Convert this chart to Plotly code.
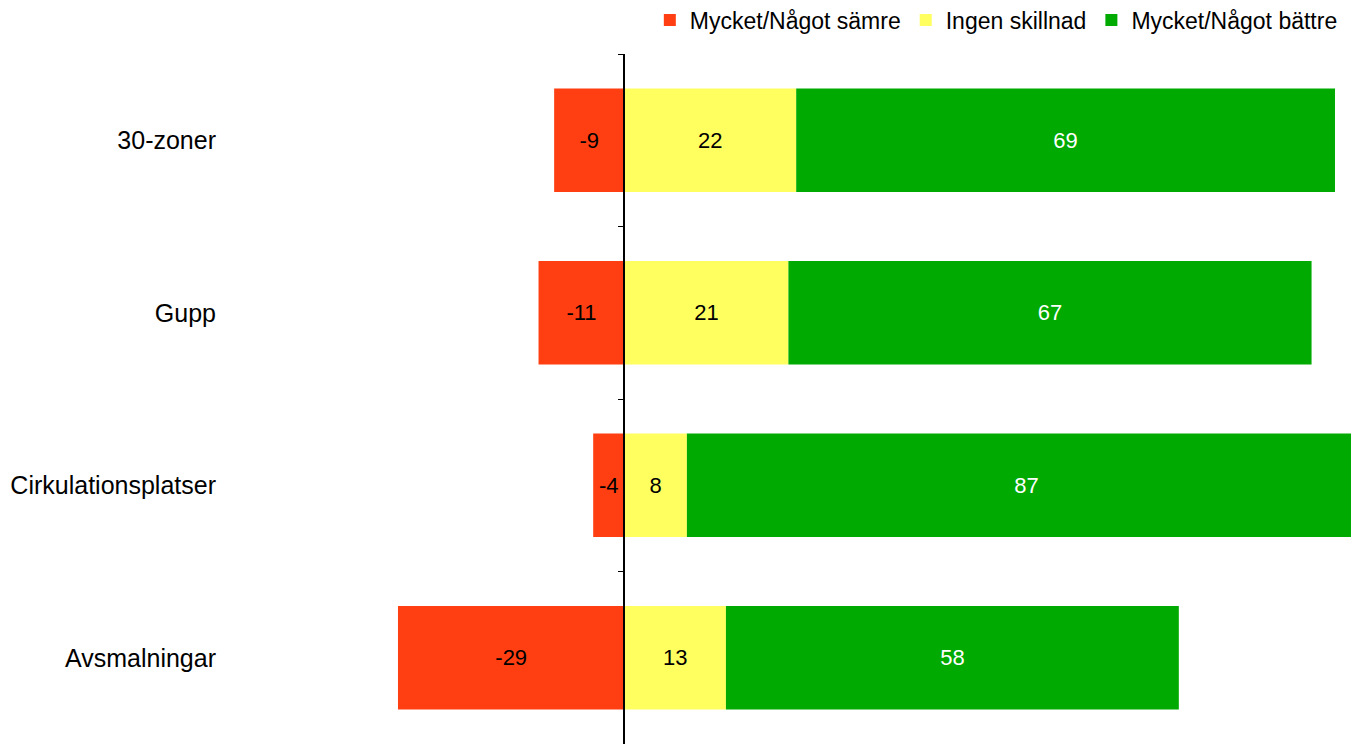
import plotly.graph_objects as go

# survey answers (%), one row per traffic measure
categories = ['30-zoner', 'Gupp', 'Cirkulationsplatser', 'Avsmalningar']
worse = [-9, -11, -4, -29]
no_diff = [22, 21, 8, 13]
better = [69, 67, 87, 58]

series_names = ['Mycket/Något sämre', 'Ingen skillnad', 'Mycket/Något bättre']
colors = ['#FF3F12', '#FFFF60', '#00AA00']
text_colors = ['black', 'black', 'white']

x_range = [-50, 95.1]
font = 'Liberation Sans, Arial, sans-serif'

fig = go.Figure()
for name, values, color, tcolor in zip(series_names, [worse, no_diff, better], colors, text_colors):
    fig.add_trace(go.Bar(
        y=categories, x=values, name=name, orientation='h',
        marker=dict(color=color, line=dict(width=0)),
        text=[str(v) for v in values], textposition='inside',
        insidetextanchor='middle', constraintext='none',
        textfont=dict(color=tcolor, size=22, family=font),
        hoverinfo='x+name',
    ))

# empty trace so the zero-line overlay axis gets drawn
fig.add_trace(go.Scatter(x=[], y=[], yaxis='y2', showlegend=False, hoverinfo='skip'))

# zero line with boundary ticks, drawn as a free overlay axis sitting at x=0
zero_pos = (0 - x_range[0]) / (x_range[1] - x_range[0])

fig.update_layout(
    width=1359, height=736,
    margin=dict(l=226, r=0, t=46, b=0),
    plot_bgcolor='white', paper_bgcolor='white',
    barmode='relative', bargap=0.4,
    font=dict(family=font, color='black'),
    showlegend=True,
    legend=dict(
        orientation='h', x=1330 / 1359, xanchor='right',
        y=1 - 12 / 736, yanchor='middle', yref='container',
        font=dict(size=23), traceorder='normal', itemwidth=30,
    ),
    xaxis=dict(range=x_range, showgrid=False, zeroline=False,
               showticklabels=False, showline=False, ticks=''),
    yaxis=dict(autorange='reversed', showgrid=False, zeroline=False,
               showline=False, ticks='outside', ticklen=12,
               tickcolor='rgba(0,0,0,0)', tickfont=dict(size=25)),
    yaxis2=dict(overlaying='y', anchor='free', position=zero_pos, side='left',
                range=[3.5, -0.5], tickvals=[-0.5, 0.5, 1.5, 2.5, 3.5],
                showticklabels=False, ticks='outside', ticklen=6,
                tickcolor='black', showline=True, linecolor='black',
                linewidth=1.5, showgrid=False, zeroline=False),
)

fig.write_html('out.html')
